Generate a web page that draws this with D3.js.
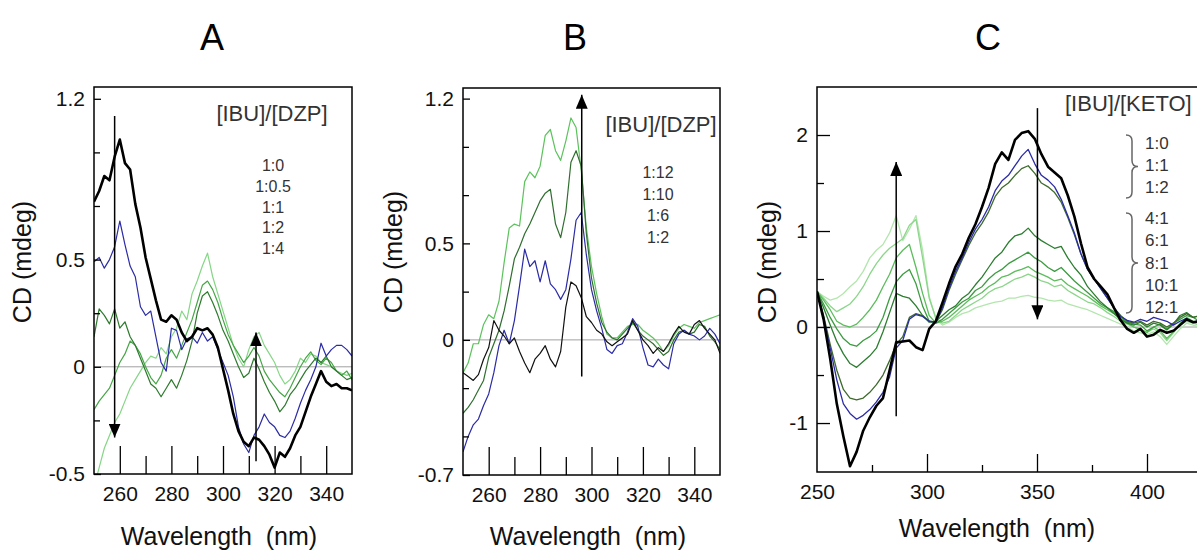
<!DOCTYPE html>
<html>
<head>
<meta charset="utf-8">
<script src="https://cdn.jsdelivr.net/npm/d3@7"></script>
<style>
body { margin: 0; background: #fff; }
svg { font-family: Arial, "Liberation Sans", sans-serif; }
</style>
</head>
<body>
<svg width="1197" height="550"></svg>
<script>
// ---- data ----
// panels A and B sampled every 2 nm
var wlAB = [250,252,254,256,258,260,262,264,266,268,270,272,274,276,278,280,282,284,286,288,
            290,292,294,296,298,300,302,304,306,308,310,312,314,316,318,320,322,324,326,328,
            330,332,334,336,338,340,342,344,346,348,350];

// panel A  [IBU]/[DZP]
var a_1_0 = [0.77,0.82,0.89,0.87,0.98,1.06,0.95,0.92,0.76,0.65,
             0.51,0.41,0.31,0.22,0.21,0.24,0.22,0.16,0.12,0.14,
             0.18,0.17,0.18,0.15,0.09,-0.01,-0.11,-0.22,-0.30,-0.35,
             -0.37,-0.33,-0.34,-0.37,-0.41,-0.47,-0.40,-0.42,-0.38,-0.32,
             -0.28,-0.21,-0.14,-0.08,-0.02,-0.07,-0.09,-0.08,-0.10,-0.10,
             -0.11];
var a_1_05 = [0.49,0.51,0.46,0.50,0.56,0.68,0.57,0.47,0.42,0.28,
              0.24,0.26,0.14,0.02,-0.02,0.18,0.17,0.08,0.13,0.14,
              0.11,0.16,0.12,0.14,0.08,0.02,-0.04,-0.14,-0.28,-0.36,
              -0.40,-0.32,-0.28,-0.22,-0.26,-0.28,-0.32,-0.33,-0.30,-0.24,
              -0.17,-0.11,-0.06,0.00,0.11,0.05,0.08,0.10,0.10,0.08,
              0.05];
var a_1_1 = [0.14,0.27,0.24,0.20,0.27,0.18,0.21,0.14,0.10,0.04,
             -0.02,-0.08,-0.10,-0.14,-0.10,-0.06,-0.10,-0.04,0.03,0.12,
             0.25,0.33,0.35,0.30,0.24,0.17,0.12,0.06,0.00,-0.05,
             -0.03,0.04,-0.01,-0.07,-0.12,-0.16,-0.21,-0.18,-0.13,-0.10,
             -0.06,-0.02,0.01,0.04,0.02,0.05,0.00,-0.02,-0.04,-0.06,
             -0.05];
var a_1_2 = [-0.20,-0.16,-0.13,-0.10,-0.04,0.02,0.06,0.12,0.10,0.06,
             0.00,-0.05,-0.08,-0.04,0.04,0.08,0.04,0.10,0.16,0.22,
             0.30,0.38,0.40,0.36,0.30,0.22,0.15,0.10,0.06,0.02,
             0.05,0.09,0.05,-0.02,-0.06,-0.09,-0.12,-0.14,-0.10,-0.05,
             0.00,0.04,0.07,0.03,0.01,0.04,0.02,-0.02,-0.04,-0.02,
             -0.06];
var a_1_4 = [-0.56,-0.47,-0.38,-0.32,-0.26,-0.22,-0.16,-0.10,-0.06,-0.02,
             0.02,0.05,0.04,0.09,0.06,0.14,0.18,0.26,0.22,0.34,
             0.40,0.47,0.53,0.42,0.34,0.26,0.18,0.10,0.04,0.00,
             0.08,0.14,0.16,0.10,0.06,0.02,-0.04,-0.08,-0.06,-0.02,
             0.04,0.02,0.06,0.05,0.02,0.01,0.00,-0.02,-0.03,-0.04,
             -0.03];

// panel B  [IBU]/[DZP]
var b_1_2 = [-0.17,-0.19,-0.21,-0.18,-0.10,-0.04,0.10,0.05,0.02,-0.02,
             0.01,-0.06,-0.12,-0.17,-0.10,-0.07,-0.03,-0.10,-0.14,-0.06,
             0.17,0.30,0.28,0.22,0.12,0.09,0.05,0.03,-0.01,-0.03,
             -0.01,0.01,0.03,0.10,0.05,0.00,-0.03,-0.07,-0.04,-0.06,
             -0.02,0.03,0.07,0.04,0.03,0.08,0.10,0.06,0.03,0.00,
             -0.07];
var b_1_6 = [-0.58,-0.50,-0.44,-0.41,-0.34,-0.28,-0.17,-0.03,0.05,-0.02,
             0.10,0.28,0.47,0.38,0.41,0.30,0.41,0.29,0.26,0.21,
             0.26,0.42,0.62,0.66,0.44,0.26,0.15,0.06,-0.05,-0.07,
             -0.03,-0.02,0.04,0.11,0.07,-0.04,-0.13,-0.14,-0.10,-0.13,
             -0.15,-0.02,0.03,0.05,0.03,0.02,0.00,0.02,0.06,0.03,
             -0.02];
var b_1_10 = [-0.38,-0.35,-0.31,-0.26,-0.21,-0.09,-0.02,0.05,0.15,0.28,
              0.42,0.48,0.55,0.60,0.66,0.72,0.76,0.78,0.60,0.53,
              0.66,0.92,0.98,0.90,0.55,0.32,0.19,0.09,0.04,0.01,
              0.00,0.03,0.06,0.09,0.05,0.02,0.00,-0.02,-0.05,-0.08,
              -0.06,0.00,0.04,0.05,0.03,0.04,0.08,0.07,0.02,-0.01,
              -0.05];
var b_1_12 = [-0.17,-0.12,-0.02,-0.02,0.08,0.13,0.11,0.20,0.40,0.58,
              0.60,0.59,0.82,0.87,0.84,0.90,1.06,1.09,0.98,0.93,
              1.03,1.15,1.10,0.88,0.58,0.38,0.24,0.12,0.03,0.01,
              0.01,0.04,0.07,0.08,0.08,0.05,0.03,0.01,-0.02,-0.06,
              -0.03,0.02,0.06,0.08,0.07,0.06,0.09,0.10,0.11,0.12,
              0.13];

// panel C sampled every 3 nm  [IBU]/[KETO]
var wlC = [250,253,256,259,262,265,268,271,274,277,280,283,286,289,292,295,298,301,304,307,
           310,313,316,319,322,325,328,331,334,337,340,343,346,349,352,355,358,361,364,367,
           370,373,376,379,382,385,388,391,394,397,400,403,406,409,412,415,418,421,424,427,430];
var c_1_0 = [0.37,0.08,-0.33,-0.80,-1.14,-1.45,-1.30,-1.08,-0.94,-0.82,
             -0.74,-0.45,-0.16,-0.15,-0.14,-0.21,-0.24,-0.02,0.06,0.25,
             0.45,0.63,0.76,0.93,1.07,1.25,1.45,1.70,1.82,1.74,
             1.95,2.02,2.04,1.96,1.80,1.67,1.61,1.55,1.37,1.15,
             0.87,0.62,0.50,0.42,0.34,0.20,0.07,-0.02,-0.06,-0.02,
             -0.10,-0.08,-0.03,-0.06,-0.04,0.02,0.08,0.05,0.06,0.03,
             0.04];
var c_1_1 = [0.37,0.10,-0.22,-0.55,-0.80,-0.90,-0.96,-0.92,-0.86,-0.78,
             -0.68,-0.52,-0.22,-0.14,0.08,0.13,0.11,0.06,0.05,0.20,
             0.40,0.58,0.72,0.88,1.02,1.12,1.25,1.42,1.52,1.58,
             1.68,1.78,1.85,1.70,1.58,1.53,1.46,1.33,1.16,0.98,
             0.76,0.60,0.50,0.40,0.30,0.20,0.11,0.07,0.05,0.08,
             0.06,0.10,0.08,0.06,0.02,0.06,0.09,0.05,0.07,0.05,
             0.06];
var c_1_2 = [0.37,0.12,-0.18,-0.45,-0.65,-0.74,-0.76,-0.74,-0.68,-0.60,
             -0.50,-0.35,-0.18,-0.10,0.10,0.14,0.12,0.06,0.05,0.18,
             0.38,0.55,0.70,0.85,0.98,1.08,1.20,1.36,1.45,1.50,
             1.58,1.65,1.68,1.60,1.50,1.46,1.40,1.30,1.14,0.96,
             0.76,0.60,0.50,0.40,0.30,0.20,0.12,0.06,0.04,0.06,
             0.02,0.06,0.04,0.00,0.04,0.10,0.14,0.10,0.12,0.08,
             0.08];
var c_4_1 = [0.37,0.20,0.02,-0.15,-0.28,-0.38,-0.42,-0.36,-0.30,-0.22,
             -0.05,0.15,0.35,0.32,0.30,0.22,0.12,0.05,0.06,0.12,
             0.18,0.22,0.30,0.35,0.44,0.52,0.62,0.72,0.78,0.88,
             0.95,0.97,1.03,0.95,0.90,0.86,0.82,0.84,0.72,0.62,
             0.54,0.42,0.34,0.26,0.20,0.14,0.08,0.04,0.02,0.05,
             0.00,0.04,0.02,-0.03,0.03,0.12,0.15,0.10,0.12,0.08,
             0.09];
var c_6_1 = [0.37,0.24,0.10,-0.02,-0.12,-0.18,-0.20,-0.14,-0.10,-0.04,
             0.10,0.30,0.47,0.55,0.60,0.45,0.22,0.06,0.04,0.08,
             0.14,0.20,0.26,0.30,0.38,0.42,0.50,0.56,0.60,0.66,
             0.70,0.74,0.78,0.72,0.68,0.62,0.58,0.62,0.55,0.48,
             0.42,0.36,0.30,0.24,0.20,0.16,0.10,0.05,0.03,0.02,
             -0.04,0.00,0.03,-0.02,0.04,0.08,0.12,0.10,0.06,0.08,
             0.10];
var c_8_1 = [0.37,0.28,0.18,0.06,0.02,0.00,0.03,0.10,0.18,0.28,
             0.42,0.55,0.72,0.80,0.86,0.62,0.35,0.12,0.04,0.06,
             0.10,0.16,0.22,0.28,0.32,0.36,0.42,0.46,0.52,0.54,
             0.58,0.60,0.63,0.58,0.55,0.52,0.48,0.50,0.44,0.40,
             0.36,0.32,0.27,0.22,0.18,0.14,0.08,0.04,0.00,-0.02,
             -0.06,0.00,-0.04,-0.12,-0.05,0.04,0.10,0.06,0.04,0.07,
             0.06];
var c_10_1 = [0.37,0.30,0.22,0.16,0.20,0.24,0.32,0.42,0.55,0.66,
              0.75,0.82,0.87,0.92,1.06,1.12,0.72,0.30,0.10,0.04,
              0.06,0.12,0.18,0.22,0.26,0.30,0.36,0.40,0.42,0.46,
              0.50,0.52,0.55,0.52,0.48,0.46,0.42,0.44,0.38,0.34,
              0.30,0.26,0.24,0.20,0.15,0.11,0.06,0.03,0.00,-0.03,
              -0.05,-0.02,-0.06,-0.14,-0.06,0.02,0.06,0.04,0.02,0.04,
              0.03];
var c_12_1 = [0.37,0.32,0.28,0.30,0.35,0.42,0.48,0.58,0.72,0.80,
              0.86,0.98,1.16,0.90,1.02,1.16,0.80,0.32,0.08,0.02,
              0.05,0.10,0.14,0.16,0.20,0.22,0.24,0.26,0.27,0.30,
              0.30,0.32,0.33,0.31,0.30,0.28,0.27,0.28,0.24,0.22,
              0.20,0.18,0.15,0.12,0.09,0.06,0.03,0.00,-0.04,-0.06,
              -0.08,-0.05,-0.10,-0.18,-0.10,-0.02,0.04,0.02,0.00,0.02,
              0.00];

// ticks and labels
var xTicksAB = [260,270,280,290,300,310,320,330,340];
var xLabelsAB = ["260","","280","","300","","320","","340"];
var yTicksA = [-0.5,-0.25,0,0.25,0.5,0.75,1,1.25];
var yLabelsA = ["-0.5","","0","","0.5","","","1.2"];
var yTicksB = [-0.7,-0.5,-0.25,0,0.25,0.5,0.75,1,1.25];
var yLabelsB = ["-0.7","","","0","","0.5","","","1.2"];
var xTicksC = [250,275,300,325,350,375,400,425];
var xLabelsC = ["250","","300","","350","","400",""];
var yTicksC = [-1,-0.5,0,0.5,1,1.5,2];
var yLabelsC = ["-1","","0","","1","","2"];

// legend text
var ratiosA = ["1:0","1:0.5","1:1","1:2","1:4"];
var ratiosB = ["1:12","1:10","1:6","1:2"];
var ratiosC = ["1:0","1:1","1:2","4:1","6:1","8:1","10:1","12:1"];

// arrows (wavelength, from CD, to CD)
var arrowsA = [[258, 1.17, -0.33], [312.8, -0.44, 0.16]];
var arrowsB = [[296.2, -0.19, 1.27]];
var arrowsC = [[286, -0.93, 1.72], [350.2, 2.28, 0.08]];

var svg = d3.select("svg");
var defs = svg.append("defs");

defs.append("marker")
        .attr("id", "head")
        .attr("viewBox", "0 0 14 12")
        .attr("refX", 14)
        .attr("refY", 6)
        .attr("markerWidth", 14)
        .attr("markerHeight", 12)
        .attr("markerUnits", "userSpaceOnUse")
        .attr("orient", "auto")
        .append("path")
        .attr("d", "M0,0 L14,6 L0,12 Z")
        .attr("fill", "#000");

function drawPanel(p) {
    var x = d3.scaleLinear().domain(p.xDomain).range([p.left, p.right]);
    var y = d3.scaleLinear().domain(p.yDomain).range([p.bottom, p.top]);
    var g = svg.append("g");

    defs.append("clipPath")
            .attr("id", "clip" + p.id)
            .append("rect")
            .attr("x", p.left)
            .attr("y", p.top)
            .attr("width", p.right - p.left)
            .attr("height", p.bottom - p.top);

    // zero line
    g.append("line")
            .attr("x1", p.left).attr("x2", p.right)
            .attr("y1", y(0)).attr("y2", y(0))
            .attr("stroke", "#a0a0a0")
            .attr("stroke-width", 1);

    // spectra
    var line = d3.line()
            .x(function (d, i) { return x(p.wl[i]); })
            .y(function (d) { return y(d); });
    var lines = g.append("g").attr("clip-path", "url(#clip" + p.id + ")");
    p.series.forEach(function (s) {
        lines.append("path")
                .datum(s.values)
                .attr("d", line)
                .attr("fill", "none")
                .attr("stroke", s.color)
                .attr("stroke-width", s.width)
                .attr("stroke-linejoin", "round");
    });

    // frame
    g.append("rect")
            .attr("x", p.left).attr("y", p.top)
            .attr("width", p.right - p.left)
            .attr("height", p.bottom - p.top)
            .attr("fill", "none")
            .attr("stroke", "#000")
            .attr("stroke-width", 1.5);

    // x axis, ticks pointing inward
    var gX = g.append("g")
            .attr("transform", "translate(0," + p.bottom + ")")
            .call(d3.axisBottom(x)
                    .tickValues(p.xTicks)
                    .tickSize(0)
                    .tickPadding(12)
                    .tickFormat(function (d) { return p.xLabels[p.xTicks.indexOf(d)]; }));
    gX.select(".domain").remove();
    gX.selectAll(".tick line")
            .attr("y2", function (d) { return p.xLabels[p.xTicks.indexOf(d)] ? -p.xMajor : -p.xMinor; })
            .attr("stroke", "#000")
            .attr("stroke-width", 1.3);
    gX.selectAll(".tick text")
            .attr("font-size", 21)
            .attr("font-family", "Arial, 'Liberation Sans', sans-serif")
            .attr("fill", "#111");

    // y axis
    var gY = g.append("g")
            .attr("transform", "translate(" + p.left + ",0)")
            .call(d3.axisLeft(y)
                    .tickValues(p.yTicks)
                    .tickSize(0)
                    .tickPadding(9)
                    .tickFormat(function (d) { return p.yLabels[p.yTicks.indexOf(d)]; }));
    gY.select(".domain").remove();
    gY.selectAll(".tick line")
            .attr("x2", function (d) { return p.yLabels[p.yTicks.indexOf(d)] ? p.yMajor : p.yMinor; })
            .attr("stroke", "#000")
            .attr("stroke-width", 1.3);
    gY.selectAll(".tick text")
            .attr("font-size", 21)
            .attr("font-family", "Arial, 'Liberation Sans', sans-serif")
            .attr("fill", "#111");

    // axis titles
    g.append("text")
            .attr("x", p.xTitle[0]).attr("y", p.xTitle[1])
            .attr("text-anchor", "middle")
            .attr("font-size", 25)
            .attr("fill", "#111")
            .style("white-space", "pre")
            .text("Wavelength  (nm)");
    g.append("text")
            .attr("transform", "translate(" + p.yTitle[0] + "," + p.yTitle[1] + ") rotate(-90)")
            .attr("text-anchor", "middle")
            .attr("font-size", 25)
            .attr("fill", "#111")
            .text("CD (mdeg)");

    // panel letter
    g.append("text")
            .attr("x", p.letterX).attr("y", 50)
            .attr("text-anchor", "middle")
            .attr("font-size", 36)
            .attr("fill", "#000")
            .text(p.id);

    // arrows
    p.arrows.forEach(function (a) {
        g.append("line")
                .attr("x1", x(a[0])).attr("x2", x(a[0]))
                .attr("y1", y(a[1])).attr("y2", y(a[2]))
                .attr("stroke", "#000")
                .attr("stroke-width", 1.5)
                .attr("marker-end", "url(#head)");
    });

    return g;
}

var gA = drawPanel({
    id: "A", left: 94, right: 352, top: 87, bottom: 474,
    xDomain: [250, 350], yDomain: [-0.5, 1.305],
    wl: wlAB,
    series: [
        {values: a_1_4, color: "#86d686", width: 1.2},
        {values: a_1_2, color: "#45a645", width: 1.2},
        {values: a_1_1, color: "#2d7a2d", width: 1.2},
        {values: a_1_05, color: "#2b2ba6", width: 1.2},
        {values: a_1_0, color: "#000", width: 2.6}
    ],
    xTicks: xTicksAB, xLabels: xLabelsAB, xMajor: 28, xMinor: 18,
    yTicks: yTicksA, yLabels: yLabelsA, yMajor: 7, yMinor: 6,
    xTitle: [219, 545], yTitle: [31, 262], letterX: 212,
    arrows: arrowsA
});
gA.append("text")
        .attr("x", 272).attr("y", 121)
        .attr("text-anchor", "middle")
        .attr("font-size", 22)
        .attr("fill", "#333")
        .text("[IBU]/[DZP]");
gA.selectAll(".ratio")
        .data(ratiosA)
        .enter()
        .append("text")
        .attr("x", 273)
        .attr("y", function (d, i) { return 171 + i * 20.8; })
        .attr("text-anchor", "middle")
        .attr("font-size", 16)
        .attr("fill", "#333")
        .text(function (d) { return d; });

var gB = drawPanel({
    id: "B", left: 463, right: 720, top: 88, bottom: 475,
    xDomain: [250, 350], yDomain: [-0.7, 1.305],
    wl: wlAB,
    series: [
        {values: b_1_12, color: "#5cc25c", width: 1.2},
        {values: b_1_10, color: "#2f6e2f", width: 1.2},
        {values: b_1_6, color: "#2b2ba6", width: 1.2},
        {values: b_1_2, color: "#111", width: 1.2}
    ],
    xTicks: xTicksAB, xLabels: xLabelsAB, xMajor: 28, xMinor: 18,
    yTicks: yTicksB, yLabels: yLabelsB, yMajor: 7, yMinor: 6,
    xTitle: [588, 545], yTitle: [402, 252], letterX: 575,
    arrows: arrowsB
});
gB.append("text")
        .attr("x", 661).attr("y", 132)
        .attr("text-anchor", "middle")
        .attr("font-size", 22)
        .attr("fill", "#333")
        .text("[IBU]/[DZP]");
gB.selectAll(".ratio")
        .data(ratiosB)
        .enter()
        .append("text")
        .attr("x", 658)
        .attr("y", function (d, i) { return 178 + i * 21.7; })
        .attr("text-anchor", "middle")
        .attr("font-size", 16)
        .attr("fill", "#333")
        .text(function (d) { return d; });

var gC = drawPanel({
    id: "C", left: 817, right: 1235, top: 87, bottom: 472,
    xDomain: [250, 440], yDomain: [-1.51, 2.5],
    wl: wlC,
    series: [
        {values: c_12_1, color: "#b3e6ad", width: 1.3},
        {values: c_10_1, color: "#8bd68a", width: 1.3},
        {values: c_8_1, color: "#5cbd5c", width: 1.3},
        {values: c_6_1, color: "#3c9c40", width: 1.3},
        {values: c_4_1, color: "#2b7d30", width: 1.3},
        {values: c_1_2, color: "#3e6b2c", width: 1.3},
        {values: c_1_1, color: "#2b2ba6", width: 1.3},
        {values: c_1_0, color: "#000", width: 2.6}
    ],
    xTicks: xTicksC, xLabels: xLabelsC, xMajor: 18, xMinor: 7,
    yTicks: yTicksC, yLabels: yLabelsC, yMajor: 13, yMinor: 7,
    xTitle: [997, 537], yTitle: [776, 262], letterX: 988,
    arrows: arrowsC
});
// the tick at the 250 edge is only a label
gC.selectAll(".tick line").filter(function (d) { return d === 250 && this.getAttribute("y2") !== null; }).attr("y2", 0);
gC.append("text")
        .attr("x", 1065).attr("y", 111)
        .attr("font-size", 22)
        .attr("fill", "#333")
        .text("[IBU]/[KETO]");
gC.selectAll(".ratio")
        .data(ratiosC)
        .enter()
        .append("text")
        .attr("x", 1145)
        .attr("y", function (d, i) { return (i < 3 ? 149 + i * 22 : 224 + (i - 3) * 22.3); })
        .attr("font-size", 17)
        .attr("fill", "#333")
        .text(function (d) { return d; });

// curly braces grouping the ratios
function brace(x0, y0, y1, w) {
    var ym = (y0 + y1) / 2, xm = x0 + w / 2, r = 6;
    return "M" + x0 + "," + y0 +
            " Q" + xm + "," + y0 + " " + xm + "," + (y0 + r) +
            " L" + xm + "," + (ym - r) +
            " Q" + xm + "," + ym + " " + (x0 + w) + "," + ym +
            " Q" + xm + "," + ym + " " + xm + "," + (ym + r) +
            " L" + xm + "," + (y1 - r) +
            " Q" + xm + "," + y1 + " " + x0 + "," + y1;
}
gC.append("path")
        .attr("d", brace(1126, 135, 198, 12))
        .attr("fill", "none").attr("stroke", "#666").attr("stroke-width", 1.5);
gC.append("path")
        .attr("d", brace(1126, 213, 313, 12))
        .attr("fill", "none").attr("stroke", "#666").attr("stroke-width", 1.5);
</script>
</body>
</html>
